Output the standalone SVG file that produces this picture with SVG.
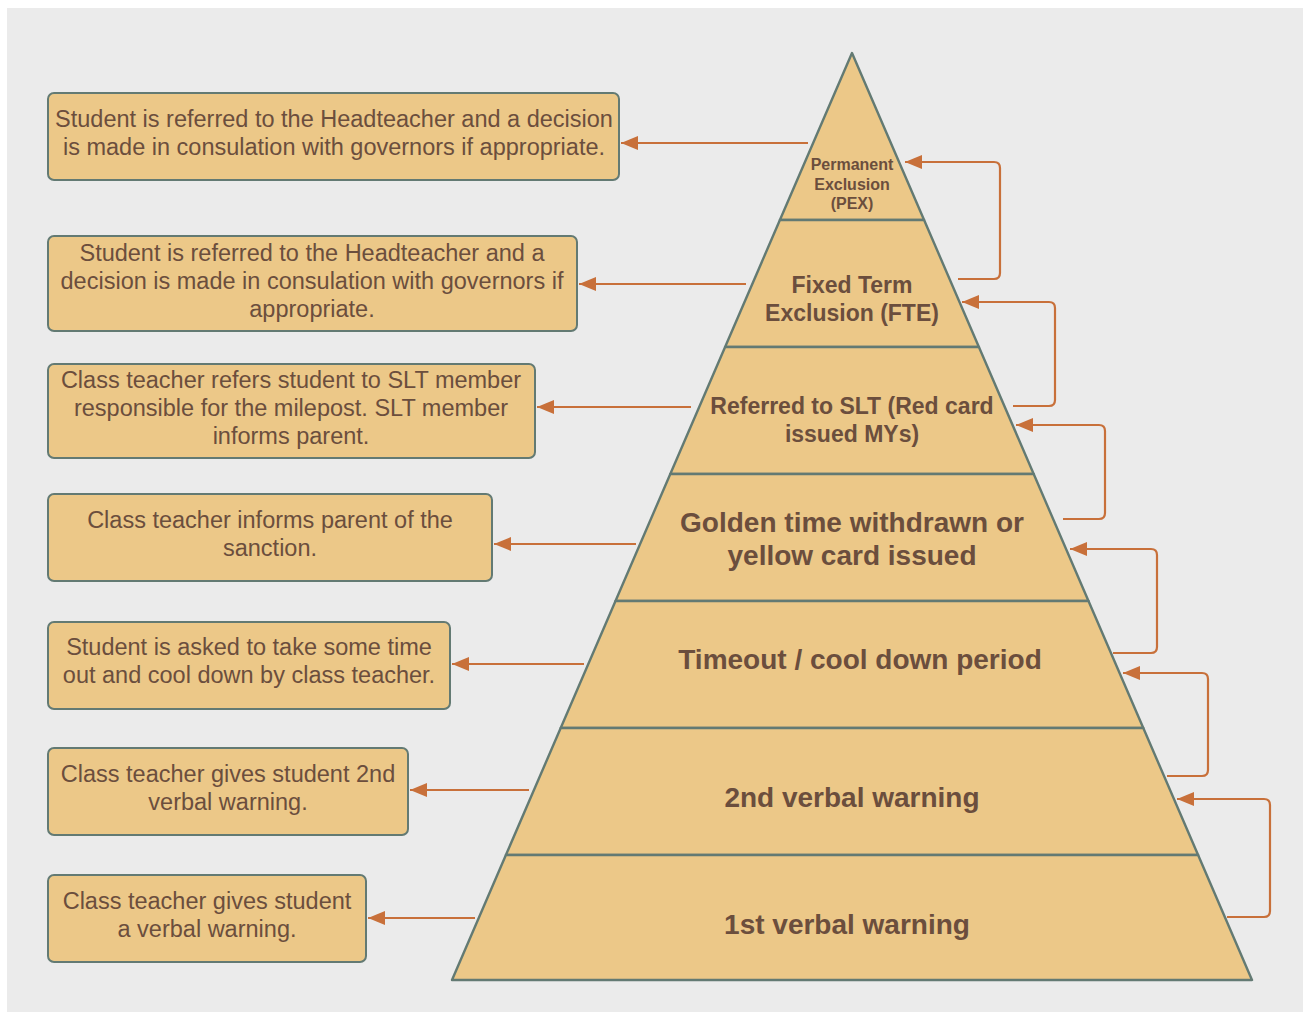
<svg xmlns="http://www.w3.org/2000/svg" width="1308" height="1015" viewBox="0 0 1308 1015">
<style>
.bg{fill:#ebebeb}
.box{fill:#ecc888;stroke:#637a73;stroke-width:2}
.tier{fill:#ecc888;stroke:#637a73;stroke-width:2.4;stroke-linejoin:round}
.bt{font-family:"Liberation Sans",Arial,sans-serif;font-size:23.5px;fill:#6b4e3d;text-anchor:middle}
.pt{font-family:"Liberation Sans",Arial,sans-serif;font-weight:bold;fill:#6b4e3d;text-anchor:middle}
.con{fill:none;stroke:#c8703a;stroke-width:2.2;marker-end:url(#ah)}
</style>
<defs>
<marker id="ah" markerUnits="userSpaceOnUse" markerWidth="18" markerHeight="16" refX="17" refY="7" orient="auto">
<path d="M0,0 L17,7 L0,14 Z" fill="#c8703a"/>
</marker>
</defs>
<rect x="0" y="0" width="1308" height="1015" fill="#ffffff"/>
<rect class="bg" x="7" y="8" width="1296" height="1004"/>

<g id="tier-pex"><polygon class="tier" points="852,53 924.1,220 779.9,220"/>
<text class="pt" font-size="16" x="852" y="170">Permanent</text>
<text class="pt" font-size="16" x="852" y="189.5">Exclusion</text>
<text class="pt" font-size="16" x="852" y="209">(PEX)</text></g>
<g id="tier-fte"><polygon class="tier" points="779.9,220 924.1,220 978.9,347 725.1,347"/>
<text class="pt" font-size="23" x="852" y="293">Fixed Term</text>
<text class="pt" font-size="23" x="852" y="321">Exclusion (FTE)</text></g>
<g id="tier-slt"><polygon class="tier" points="725.1,347 978.9,347 1033.7,474 670.3,474"/>
<text class="pt" font-size="23" x="852" y="414">Referred to SLT (Red card</text>
<text class="pt" font-size="23" x="852" y="442">issued MYs)</text></g>
<g id="tier-golden"><polygon class="tier" points="670.3,474 1033.7,474 1088.5,601 615.5,601"/>
<text class="pt" font-size="28" x="852" y="532">Golden time withdrawn or</text>
<text class="pt" font-size="28" x="852" y="565">yellow card issued</text></g>
<g id="tier-timeout"><polygon class="tier" points="615.5,601 1088.5,601 1143.3,728 560.7,728"/>
<text class="pt" font-size="28" x="860" y="669">Timeout / cool down period</text></g>
<g id="tier-2nd"><polygon class="tier" points="560.7,728 1143.3,728 1198.1,855 505.9,855"/>
<text class="pt" font-size="28" x="852" y="807">2nd verbal warning</text></g>
<g id="tier-1st"><polygon class="tier" points="505.9,855 1198.1,855 1252,980 452,980"/>
<text class="pt" font-size="28" x="847" y="934">1st verbal warning</text></g>

<g id="box-1"><rect class="box" x="48" y="93" width="571" height="87" rx="6"/>
<text class="bt" x="334" y="127">Student is referred to the Headteacher and a decision</text>
<text class="bt" x="334" y="155">is made in consulation with governors if appropriate.</text></g>
<g id="box-2"><rect class="box" x="48" y="236" width="529" height="95" rx="6"/>
<text class="bt" x="312" y="261">Student is referred to the Headteacher and a</text>
<text class="bt" x="312" y="289">decision is made in consulation with governors if</text>
<text class="bt" x="312" y="317">appropriate.</text></g>
<g id="box-3"><rect class="box" x="48" y="364" width="487" height="94" rx="6"/>
<text class="bt" x="291" y="388">Class teacher refers student to SLT member</text>
<text class="bt" x="291" y="416">responsible for the milepost. SLT member</text>
<text class="bt" x="291" y="444">informs parent.</text></g>
<g id="box-4"><rect class="box" x="48" y="494" width="444" height="87" rx="6"/>
<text class="bt" x="270" y="528">Class teacher informs parent of the</text>
<text class="bt" x="270" y="556">sanction.</text></g>
<g id="box-5"><rect class="box" x="48" y="622" width="402" height="87" rx="6"/>
<text class="bt" x="249" y="655">Student is asked to take some time</text>
<text class="bt" x="249" y="683">out and cool down by class teacher.</text></g>
<g id="box-6"><rect class="box" x="48" y="748" width="360" height="87" rx="6"/>
<text class="bt" x="228" y="782">Class teacher gives student 2nd</text>
<text class="bt" x="228" y="810">verbal warning.</text></g>
<g id="box-7"><rect class="box" x="48" y="875" width="318" height="87" rx="6"/>
<text class="bt" x="207" y="909">Class teacher gives student</text>
<text class="bt" x="207" y="937">a verbal warning.</text></g>

<g id="connectors">
<path class="con" d="M808,143 H621"/>
<path class="con" d="M746,284 H579"/>
<path class="con" d="M691,407 H537"/>
<path class="con" d="M636,544 H494"/>
<path class="con" d="M584,664 H452"/>
<path class="con" d="M529,790 H410"/>
<path class="con" d="M475,918 H368"/>
<path class="con" d="M958,279 H994 Q1000,279 1000,273 V168 Q1000,162 994,162 H905"/>
<path class="con" d="M1013,406 H1049 Q1055,406 1055,400 V308 Q1055,302 1049,302 H962"/>
<path class="con" d="M1063,519 H1099 Q1105,519 1105,513 V431 Q1105,425 1099,425 H1016"/>
<path class="con" d="M1113,653 H1151 Q1157,653 1157,647 V555 Q1157,549 1151,549 H1070"/>
<path class="con" d="M1167,776 H1202 Q1208,776 1208,770 V679 Q1208,673 1202,673 H1123"/>
<path class="con" d="M1227,917 H1264 Q1270,917 1270,911 V805 Q1270,799 1264,799 H1177"/>
</g>
</svg>
